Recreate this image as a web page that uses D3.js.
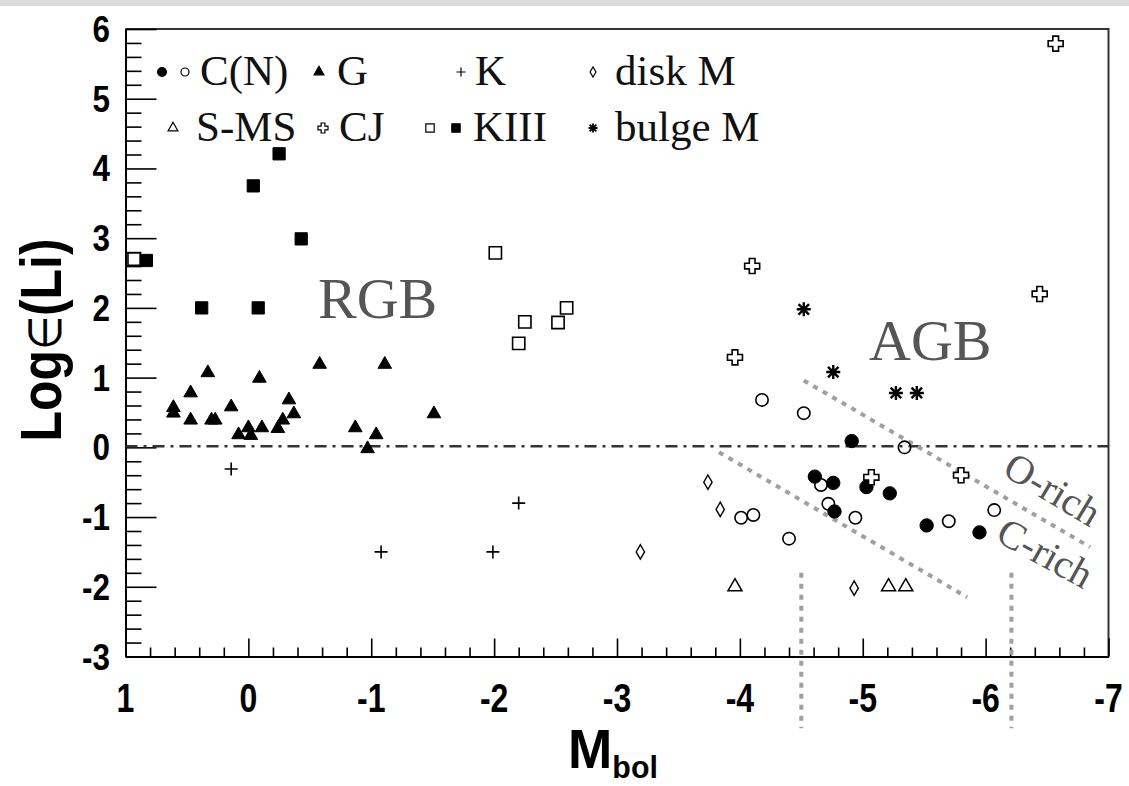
<!DOCTYPE html>
<html><head><meta charset="utf-8">
<script src="https://cdn.jsdelivr.net/npm/d3@7"></script>
<style>body{margin:0;background:#fff;} svg{display:block;}</style>
</head><body>
<svg id="chart" width="1129" height="786"></svg>
<script>
// ---------------- DATA ----------------
const xTickLabels = ["1","0","-1","-2","-3","-4","-5","-6","-7"];
const yTickLabels = ["-3","-2","-1","0","1","2","3","4","5","6"];

// C(N) filled
const cnFilledM  = [-4.91,-4.61,-4.76,-5.03,-5.22,-4.77,-5.52,-5.95];
const cnFilledLi = [0.09,-0.42,-0.51,-0.57,-0.66,-0.92,-1.12,-1.22];
// C(N) open
const cnOpenM  = [-5.34,-4.66,-4.72,-4.01,-4.11,-4.40,-4.94,-5.70,-6.07,-4.18,-4.52];
const cnOpenLi = [0.00,-0.54,-0.81,-1.01,-0.97,-1.31,-1.01,-1.06,-0.90,0.68,0.49];
// G
const gM  = [0.61,0.61,0.47,0.47,0.33,0.30,0.27,0.14,0.08,0.00,-0.02,-0.09,-0.11,-0.24,-0.28,-0.33,-0.37,-0.58,-0.87,-0.97,-1.04,-1.11,-1.51];
const gLi = [0.57,0.49,0.78,0.39,1.07,0.39,0.39,0.58,0.18,0.28,0.17,0.99,0.28,0.27,0.39,0.68,0.48,1.19,0.28,-0.02,0.18,1.19,0.48];
// K
const kM  = [0.14,-1.08,-1.99,-2.20];
const kLi = [-0.31,-1.50,-1.50,-0.80];
// disk M
const diskM  = [-3.74,-3.84,-3.19,-4.93];
const diskLi = [-0.50,-0.89,-1.50,-2.02];
// S-MS
const smsM  = [-3.96,-5.21,-5.35];
const smsLi = [-2.00,-2.00,-2.00];
// CJ
const cjM  = [-6.57,-4.10,-3.96,-6.44,-5.07,-5.80];
const cjLi = [5.79,2.60,1.29,2.20,-0.43,-0.40];
// KIII open
const k3OpenM  = [0.93,-2.01,-2.25,-2.20,-2.52,-2.59];
const k3OpenLi = [2.70,2.79,1.80,1.49,1.79,2.00];
// KIII filled
const k3FilledM  = [0.83,0.38,-0.08,-0.43,-0.04,-0.25];
const k3FilledLi = [2.68,2.00,2.00,2.99,3.75,4.21];
// bulge M
const bulgeM  = [-4.52,-4.76,-5.27,-5.44];
const bulgeLi = [1.98,1.08,0.78,0.78];

// guide lines
const oRichLineM = [-4.52,-6.85], oRichLineLi = [0.96,-1.43];
const cRichLineM = [-3.83,-5.85], cRichLineLi = [-0.07,-2.15];
const vLinesM = [-4.50,-6.21], vLinesLi = [-1.8,-4.03];

// ---------------- SETUP ----------------
const svg = d3.select("#chart");
const W = 1129, H = 786;
const x = d3.scaleLinear().domain([1,-7]).range([125.5,1108.5]);
const y = d3.scaleLinear().domain([-3,6]).range([656.5,29]);

svg.append("rect").attr("x",0).attr("y",0).attr("width",W).attr("height",H).attr("fill","#fff");
svg.append("rect").attr("x",0).attr("y",0).attr("width",W).attr("height",6).attr("fill","#dcdcdc");

// frame top/right
svg.append("path")
  .attr("d",`M${x(1)},${y(6)}H${x(-7)}V${y(-3)}`)
  .attr("fill","none").attr("stroke","#333").attr("stroke-width",2);

const xMajor = d3.range(1,-7.01,-1);
const xMinor = d3.range(1,-7.001,-0.2).filter(v=>Math.abs(v-Math.round(v))>1e-6);
const yMajor = d3.range(-3,6.01,1);
const yMinor = d3.range(-3,6.001,0.2).filter(v=>Math.abs(v-Math.round(v))>1e-6);

function styleAxis(g){
  g.select(".domain").attr("stroke","#000").attr("stroke-width",2);
  g.selectAll(".tick line").attr("stroke","#000").attr("stroke-width",1.6);
  g.selectAll(".tick text").remove();
}
svg.append("g").attr("transform",`translate(0,${y(-3)})`)
  .call(d3.axisBottom(x).tickValues(xMajor).tickSize(-18).tickSizeOuter(0)).call(styleAxis);
svg.append("g").attr("transform",`translate(0,${y(-3)})`)
  .call(d3.axisBottom(x).tickValues(xMinor).tickSize(-9).tickSizeOuter(0)).call(styleAxis);
svg.append("g").attr("transform",`translate(${x(1)},0)`)
  .call(d3.axisLeft(y).tickValues(yMajor).tickSize(-31).tickSizeOuter(0)).call(styleAxis);
svg.append("g").attr("transform",`translate(${x(1)},0)`)
  .call(d3.axisLeft(y).tickValues(yMinor).tickSize(-16).tickSizeOuter(0)).call(styleAxis);

// tick labels
const tickFont = "'Liberation Sans', Arial, sans-serif";
svg.append("g").selectAll("text").data(xMajor).join("text")
  .attr("transform",(d)=>`translate(${x(d)},712) scale(0.8,1)`)
  .attr("text-anchor","middle").attr("font-family",tickFont).attr("font-weight","bold")
  .attr("font-size",40).attr("fill","#000")
  .text((d,i)=>xTickLabels[i]);
svg.append("g").selectAll("text").data(yMajor).join("text")
  .attr("transform",(d)=>`translate(110,${y(d)+13}) scale(0.85,1)`)
  .attr("text-anchor","end").attr("font-family",tickFont).attr("font-weight","bold")
  .attr("font-size",37).attr("fill","#000")
  .text((d,i)=>yTickLabels[i]);

// axis titles
const yt = svg.append("text")
  .attr("transform","translate(61,340) rotate(-90) scale(0.86,1)")
  .attr("text-anchor","middle").attr("font-family",tickFont).attr("font-weight","bold")
  .attr("font-size",58).attr("fill","#000");
yt.append("tspan").text("Log");
yt.append("tspan").attr("font-weight","normal").attr("font-size",46).text("∈");
yt.append("tspan").text("(Li)");
const xt = svg.append("text").attr("transform","translate(568,768) scale(0.95,1)")
  .attr("font-family",tickFont).attr("font-weight","bold").attr("fill","#000");
xt.append("tspan").attr("font-size",56).text("M");
xt.append("tspan").attr("font-size",32).attr("dy",10).text("bol");

// dash-dot zero line
svg.append("line").attr("x1",x(1)).attr("x2",x(-7)).attr("y1",y(0)-1).attr("y2",y(0)-1)
  .attr("stroke","#333").attr("stroke-width",2.5).attr("stroke-dasharray","12,6,3,6");

// gray dotted guides
const grey = "#a0a0a0";
function guide(ms, ls){
  svg.append("line").attr("x1",x(ms[0])).attr("y1",y(ls[0])).attr("x2",x(ms[1])).attr("y2",y(ls[1]))
    .attr("stroke",grey).attr("stroke-width",4).attr("stroke-dasharray","5,6");
}
guide(oRichLineM,oRichLineLi);
guide(cRichLineM,cRichLineLi);
vLinesM.forEach(m=>guide([m,m],vLinesLi));

// region labels
const serif = "'Liberation Serif','Times New Roman',serif";
svg.append("text").attr("x",318).attr("y",318).attr("font-family",serif).attr("font-size",58).attr("fill","#555").text("RGB");
svg.append("text").attr("x",869).attr("y",360).attr("font-family",serif).attr("font-size",58).attr("fill","#555").text("AGB");
svg.append("text").attr("transform","translate(1001,474) rotate(31)").attr("font-family",serif).attr("font-size",40).attr("fill","#555").text("O-rich");
svg.append("text").attr("transform","translate(994,540) rotate(29)").attr("font-family",serif).attr("font-size",40).attr("fill","#555").text("C-rich");

// ---------------- MARKERS ----------------
const sym = (type,size)=>d3.symbol().type(type).size(size)();
const plusPath = (h)=>`M${-h},0H${h}M0,${-h}V${h}`;
const starPath = (h)=>{const d=h*0.75;return `M${-h},0H${h}M0,${-h}V${h}M${-d},${-d}L${d},${d}M${-d},${d}L${d},${-d}`;};
const cjPath = (h)=>{const a=h*0.38;return `M${-a},${-h}H${a}V${-a}H${h}V${a}H${a}V${h}H${-a}V${a}H${-h}V${-a}H${-a}Z`;};

const markers = {
  cnF:   {path:()=>sym(d3.symbolCircle,140), fill:"#000", stroke:"#000", sw:1},
  cnO:   {path:()=>sym(d3.symbolCircle,120), fill:"none", stroke:"#000", sw:1.6},
  g:     {path:()=>sym(d3.symbolTriangle,80), fill:"#000", stroke:"#000", sw:1},
  k:     {path:()=>plusPath(6.5), fill:"none", stroke:"#000", sw:1.6},
  disk:  {path:()=>sym(d3.symbolDiamond,60), fill:"none", stroke:"#000", sw:1.4},
  sms:   {path:()=>sym(d3.symbolTriangle,85), fill:"none", stroke:"#000", sw:1.5},
  cj:    {path:()=>cjPath(7.5), fill:"#fff", stroke:"#000", sw:1.6},
  k3O:   {path:()=>sym(d3.symbolSquare,150), fill:"#fff", stroke:"#000", sw:1.6},
  k3F:   {path:()=>sym(d3.symbolSquare,150), fill:"#000", stroke:"#000", sw:1},
  bulge: {path:()=>starPath(7), fill:"none", stroke:"#000", sw:2.4}
};
function plot(ms, ls, key){
  const m = markers[key];
  svg.append("g").selectAll("path").data(ms).join("path")
    .attr("transform",(d,i)=>`translate(${x(d)},${y(ls[i])})`)
    .attr("d",m.path()).attr("fill",m.fill).attr("stroke",m.stroke).attr("stroke-width",m.sw);
}
plot(k3OpenM,k3OpenLi,"k3O");
plot(k3FilledM,k3FilledLi,"k3F");
plot(gM,gLi,"g");
plot(kM,kLi,"k");
plot(diskM,diskLi,"disk");
plot(smsM,smsLi,"sms");
plot(bulgeM,bulgeLi,"bulge");
plot(cnFilledM,cnFilledLi,"cnF");
plot(cnOpenM,cnOpenLi,"cnO");
plot(cjM,cjLi,"cj");

// ---------------- LEGEND ----------------
const legendMarks = {
  cnF:   ()=>sym(d3.symbolCircle,60),
  cnO:   ()=>sym(d3.symbolCircle,50),
  g:     ()=>sym(d3.symbolTriangle,42),
  k:     ()=>plusPath(4.5),
  disk:  ()=>sym(d3.symbolDiamond,30),
  sms:   ()=>sym(d3.symbolTriangle,42),
  cj:    ()=>cjPath(5),
  k3O:   ()=>sym(d3.symbolSquare,70),
  k3F:   ()=>sym(d3.symbolSquare,70),
  bulge: ()=>starPath(4.5)
};
const legendItems = [
  {keys:["cnF","cnO"], mx:[162,185], tx:200, row:0, label:"C(N)"},
  {keys:["g"], mx:[319], tx:337, row:0, label:"G"},
  {keys:["k"], mx:[461], tx:475, row:0, label:"K"},
  {keys:["disk"], mx:[593], tx:615, row:0, label:"disk M"},
  {keys:["sms"], mx:[173], tx:196, row:1, label:"S-MS"},
  {keys:["cj"], mx:[323], tx:339, row:1, label:"CJ"},
  {keys:["k3O","k3F"], mx:[430,456], tx:473, row:1, label:"KIII"},
  {keys:["bulge"], mx:[593], tx:615, row:1, label:"bulge M"}
];
const rowY = [72,128];
const lg = svg.append("g");
legendItems.forEach(it=>{
  it.keys.forEach((k,j)=>{
    const m = markers[k];
    lg.append("path").attr("transform",`translate(${it.mx[j]},${rowY[it.row]})`)
      .attr("d",legendMarks[k]()).attr("fill",m.fill)
      .attr("stroke","#000").attr("stroke-width",k==="bulge"?1.8:1.2);
  });
  lg.append("text").attr("x",it.tx).attr("y",rowY[it.row]+13)
    .attr("font-family",serif).attr("font-size",43).attr("fill","#111").text(it.label);
});
</script>
</body></html>
